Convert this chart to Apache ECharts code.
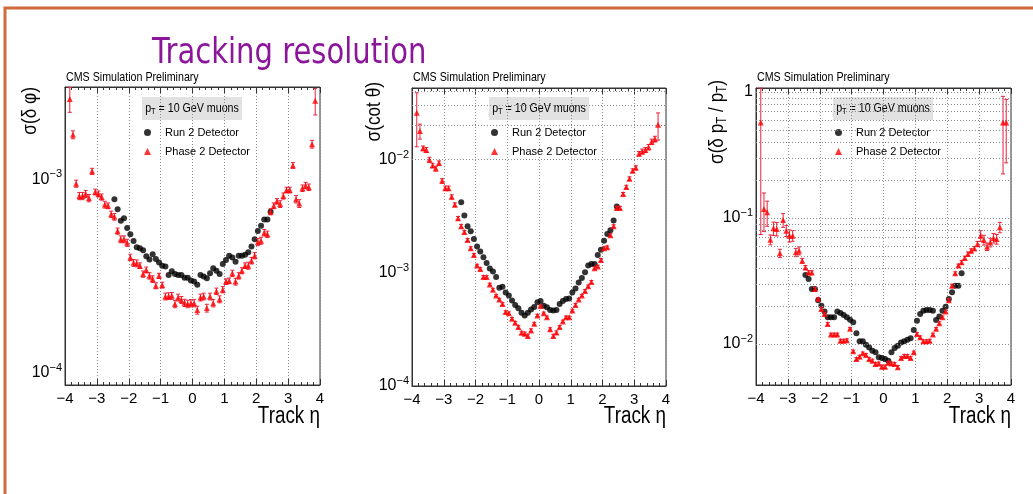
<!DOCTYPE html>
<html><head><meta charset="utf-8">
<script src="https://cdn.jsdelivr.net/npm/echarts@6/dist/echarts.min.js"></script>
<style>html,body{margin:0;padding:0;background:#fff}#c{width:1033px;height:494px}</style>
</head><body><div id="c"></div>
<script>
// ---- bin centres (Track eta) ----
const eta = [-3.85,-3.75,-3.65,-3.55,-3.45,-3.35,-3.25,-3.15,-3.05,-2.95,
 -2.85,-2.75,-2.65,-2.55,-2.45,-2.35,-2.25,-2.15,-2.05,-1.95,
 -1.85,-1.75,-1.65,-1.55,-1.45,-1.35,-1.25,-1.15,-1.05,-0.95,
 -0.85,-0.75,-0.65,-0.55,-0.45,-0.35,-0.25,-0.15,-0.05,0.05,
 0.15,0.25,0.35,0.45,0.55,0.65,0.75,0.85,0.95,1.05,
 1.15,1.25,1.35,1.45,1.55,1.65,1.75,1.85,1.95,2.05,
 2.15,2.25,2.35,2.45,2.55,2.65,2.75,2.85,2.95,3.05,
 3.15,3.25,3.35,3.45,3.55,3.65,3.75,3.85];
const etaRun2 = [-2.45,-2.35,-2.25,-2.15,-2.05,-1.95,-1.85,-1.75,-1.65,-1.55,
 -1.45,-1.35,-1.25,-1.15,-1.05,-0.95,-0.85,-0.75,-0.65,-0.55,
 -0.45,-0.35,-0.25,-0.15,-0.05,0.05,0.15,0.25,0.35,0.45,
 0.55,0.65,0.75,0.85,0.95,1.05,1.15,1.25,1.35,1.45,
 1.55,1.65,1.75,1.85,1.95,2.05,2.15,2.25,2.35,2.45];

// ---- sigma(delta phi) ----
const dphiRun2 = [7.9e-4,7.0e-4,6.1e-4,6.3e-4,5.6e-4,5.2e-4,4.8e-4,4.45e-4,4.4e-4,4.3e-4,
 4.0e-4,3.85e-4,4.1e-4,3.87e-4,3.72e-4,3.58e-4,3.54e-4,3.2e-4,3.35e-4,3.24e-4,
 3.2e-4,3.2e-4,3.1e-4,3.1e-4,3.0e-4,2.96e-4,2.85e-4,3.2e-4,3.15e-4,3.08e-4,
 3.27e-4,3.47e-4,3.37e-4,3.24e-4,3.65e-4,3.83e-4,4.03e-4,3.95e-4,3.75e-4,4.03e-4,
 4.03e-4,4.08e-4,4.2e-4,4.5e-4,4.9e-4,5.4e-4,5.76e-4,6.2e-4,6.2e-4,6.8e-4];
const dphiPhase2 = [2.6e-3,1.7e-3,9.5e-4,8.2e-4,8.2e-4,8.4e-4,8.0e-4,1.1e-3,8.6e-4,8.4e-4,
 8.1e-4,7.4e-4,7.3e-4,6.6e-4,6.4e-4,5.4e-4,4.9e-4,4.9e-4,4.7e-4,3.95e-4,
 3.7e-4,3.68e-4,3.58e-4,3.24e-4,3.4e-4,3.17e-4,3.05e-4,2.82e-4,3.17e-4,2.84e-4,
 2.48e-4,2.49e-4,2.5e-4,2.27e-4,2.45e-4,2.38e-4,2.3e-4,2.27e-4,2.29e-4,2.29e-4,
 2.11e-4,2.45e-4,2.48e-4,2.16e-4,2.48e-4,2.29e-4,2.64e-4,2.4e-4,2.69e-4,2.96e-4,
 2.99e-4,3.27e-4,2.96e-4,3.17e-4,3.37e-4,3.58e-4,3.58e-4,3.8e-4,4.03e-4,4.74e-4,
 4.82e-4,5.3e-4,5.2e-4,6.8e-4,7.3e-4,7.7e-4,7.45e-4,8.2e-4,8.8e-4,8.8e-4,
 1.18e-3,7.9e-4,7.5e-4,9.0e-4,9.3e-4,9.1e-4,1.52e-3,2.55e-3];
const dphiPhase2Err = [3.8e-4,8e-5,4e-5,3.5e-5,3.5e-5,3.5e-5,3.5e-5,4e-5,3e-5,3e-5,
 3e-5,3e-5,2.5e-5,2.5e-5,2.5e-5,2e-5,2e-5,2e-5,2e-5,1.5e-5,
 1.5e-5,1.5e-5,1.2e-5,1.2e-5,1.2e-5,1.2e-5,1.2e-5,1e-5,1e-5,1e-5,
 1e-5,1e-5,1e-5,1e-5,1e-5,1e-5,1e-5,1e-5,1e-5,1e-5,
 1e-5,1e-5,1e-5,1e-5,1e-5,1e-5,1e-5,1e-5,1e-5,1e-5,
 1e-5,1.2e-5,1.2e-5,1.2e-5,1.2e-5,1.2e-5,1.5e-5,1.5e-5,1.5e-5,2e-5,
 2e-5,2e-5,2e-5,2.5e-5,2.5e-5,2.5e-5,3e-5,3e-5,3e-5,3e-5,
 4e-5,3.5e-5,3.5e-5,3.5e-5,3.5e-5,3.5e-5,7e-5,4e-4];

// ---- sigma(cot theta) ----
const cotRun2 = [4.2e-3,3.21e-3,2.58e-3,2.33e-3,1.99e-3,1.71e-3,1.54e-3,1.37e-3,1.22e-3,1.09e-3,
 1.03e-3,9.2e-4,7.4e-4,7.55e-4,6.7e-4,6.3e-4,5.7e-4,5.2e-4,4.87e-4,4.43e-4,
 4.2e-4,4.43e-4,4.74e-4,5.0e-4,5.5e-4,5.65e-4,5.13e-4,4.96e-4,4.7e-4,4.65e-4,
 4.7e-4,5.3e-4,5.65e-4,5.86e-4,5.94e-4,6.7e-4,7.26e-4,8.2e-4,9.0e-4,1.01e-3,
 1.16e-3,1.2e-3,1.2e-3,1.44e-3,1.6e-3,1.92e-3,2.2e-3,2.38e-3,2.9e-3,3.85e-3];
const cotPhase2 = [2.6e-2,1.79e-2,1.26e-2,1.22e-2,1.0e-2,8.9e-3,8.35e-3,9.35e-3,6.5e-3,5.6e-3,
 5.6e-3,4.7e-3,4.0e-3,3.03e-3,2.58e-3,2.29e-3,1.95e-3,1.65e-3,1.44e-3,1.16e-3,
 1.08e-3,9.2e-4,9.2e-4,7.9e-4,7.1e-4,6.3e-4,5.8e-4,5.3e-4,4.5e-4,4.4e-4,
 3.93e-4,3.62e-4,3.32e-4,2.95e-4,2.9e-4,2.77e-4,3.1e-4,3.55e-4,4.2e-4,5.1e-4,
 4.4e-4,4.05e-4,3.17e-4,2.76e-4,2.97e-4,3.32e-4,3.72e-4,4.05e-4,4.05e-4,4.65e-4,
 5.2e-4,5.8e-4,6.3e-4,6.9e-4,7.6e-4,8.3e-4,1.1e-3,1.14e-3,1.3e-3,1.65e-3,
 1.68e-3,2.15e-3,2.58e-3,3.75e-3,3.75e-3,4.97e-3,5.74e-3,6.8e-3,8.0e-3,8.5e-3,
 1.13e-2,1.18e-2,1.22e-2,1.29e-2,1.44e-2,1.52e-2,2.04e-2,null];
const cotPhase2Err = [1.3e-2,2.7e-3,6e-4,6e-4,5e-4,4e-4,4e-4,4e-4,3e-4,2.5e-4,
 2.5e-4,2e-4,1.5e-4,1.2e-4,1e-4,8e-5,6e-5,5e-5,4e-5,3e-5,
 3e-5,2.5e-5,2.5e-5,2e-5,2e-5,1.5e-5,1.5e-5,1.5e-5,1.2e-5,1.2e-5,
 1e-5,1e-5,1e-5,1e-5,1e-5,1e-5,1e-5,1e-5,1e-5,1e-5,
 1e-5,1e-5,1e-5,1e-5,1e-5,1e-5,1e-5,1e-5,1e-5,1.2e-5,
 1.5e-5,1.5e-5,1.5e-5,2e-5,2e-5,2.5e-5,3e-5,3e-5,4e-5,5e-5,
 5e-5,7e-5,8e-5,1.2e-4,1.2e-4,1.6e-4,2e-4,2.5e-4,3e-4,3.5e-4,
 5e-4,6e-4,6e-4,7e-4,8e-4,9e-4,5.5e-3,0];

// ---- sigma(delta pT / pT) ----
const ptRun2 = [0.0353,0.0328,0.0273,0.0273,0.0223,0.0201,0.0181,0.0163,0.0163,0.0163,
 0.0181,0.0176,0.0170,0.0163,0.0156,0.0149,0.0122,0.0105,0.0105,0.00988,
 0.0094,0.00886,0.0086,0.00785,0.00774,0.0076,0.00738,0.0086,0.00929,0.0097,
 0.0103,0.0105,0.0108,0.0111,0.0129,0.0153,0.0173,0.0184,0.0186,0.0186,
 0.0184,0.0155,0.0165,0.0184,0.0198,0.0228,0.0257,0.029,0.029,0.0364];
const ptPhase2 = [0.574,0.118,0.111,0.0673,0.0828,0.082,0.0525,0.0964,0.0794,0.0724,
 0.0724,0.0534,0.055,0.0458,0.0405,0.037,0.037,0.0273,0.0228,0.019,
 0.0173,0.0144,0.0119,0.0119,0.0119,0.0106,0.0106,0.0107,0.0132,0.00875,
 0.0076,0.00794,0.00844,0.0082,0.0076,0.00738,0.00693,0.007,0.0066,0.0066,
 0.0071,0.007,0.00693,0.00655,0.00774,0.00805,0.00805,0.00774,0.00859,0.012,
 0.0113,0.0105,0.0105,0.0106,0.0119,0.0132,0.0146,0.0163,0.0181,0.0223,
 0.029,0.0364,0.0419,0.0445,0.0482,0.0518,0.055,0.0574,0.0622,0.0724,
 0.067,0.0592,0.064,0.0694,0.068,0.0844,0.574,0.574];
const ptPhase2Err = [0.5,0.04,0.025,0.006,0.01,0.01,0.004,0.012,0.008,0.008,
 0.007,0.004,0.004,0.002,0.0015,0.0012,0.0012,0.0008,0.0006,0.0005,
 0.0004,0.0004,0.0003,0.0003,0.0003,0.0003,0.0003,0.0003,0.0003,0.0002,
 0.0002,0.0002,0.0002,0.0002,0.0002,0.0002,0.0002,0.0002,0.0002,0.0002,
 0.0002,0.0002,0.0002,0.0002,0.0002,0.0002,0.0002,0.0002,0.0002,0.0003,
 0.0003,0.0003,0.0003,0.0003,0.0003,0.0003,0.0004,0.0004,0.0005,0.0006,
 0.0008,0.001,0.0012,0.0015,0.0015,0.002,0.002,0.002,0.003,0.007,
 0.006,0.004,0.005,0.006,0.006,0.008,0.35,0.3];

// ---- log grid line values ----
const gridPhi = [9e-5,1e-4,2e-4,3e-4,4e-4,5e-4,6e-4,7e-4,8e-4,9e-4,1e-3,2e-3];
const gridCot = [2e-4,3e-4,4e-4,5e-4,6e-4,7e-4,8e-4,9e-4,1e-3,2e-3,3e-3,4e-3,5e-3,6e-3,7e-3,8e-3,9e-3,1e-2,2e-2,3e-2,4e-2];
const gridPt = [5e-3,6e-3,7e-3,8e-3,9e-3,1e-2,2e-2,3e-2,4e-2,5e-2,6e-2,7e-2,8e-2,9e-2,0.1,0.2,0.3,0.4,0.5,0.6,0.7,0.8,0.9,1];

const seriesNames = ['Run 2 Detector', 'Phase 2 Detector'];
const xTicks = [-4, 4, 1];

const FONT = "'Liberation Sans',Arial,sans-serif";
const SQ = 0.82; // horizontal squeeze of the original slide text
const panels = [
  {left:65, top:87, width:255, height:298, min:8.65e-5, max:3.0e-3, run2:dphiRun2, p2:dphiPhase2, err:dphiPhase2Err, grid:gridPhi,
   ytitle:'σ(δ φ)', ytx:30, yty:87},
  {left:412, top:88, width:254, height:298, min:1e-4, max:4.3e-2, run2:cotRun2, p2:cotPhase2, err:cotPhase2Err, grid:gridCot,
   ytitle:'σ(cot θ)', ytx:374, yty:82},
  {left:756, top:88, width:255, height:297, min:4.73e-3, max:1.076, run2:ptRun2, p2:ptPhase2, err:ptPhase2Err, grid:gridPt,
   ytitle:'σ(δ p{s|T} / p{s|T})', ytx:717, yty:80}
];

function yLabel(v){
  const l = Math.log10(v), r = Math.round(l);
  if (Math.abs(l - r) > 1e-6) return '';
  if (r === 0) return '{b|1}';
  return '{b|10}{s|' + (r < 0 ? '\u2212' : '') + Math.abs(r) + '}';
}

const grids = [], xAxes = [], yAxes = [], series = [], legends = [], graphics = [];
panels.forEach((p, i) => {
  grids.push({left:p.left, top:p.top, width:p.width, height:p.height, show:true, borderColor:'#333', borderWidth:1, backgroundColor:'transparent'});
  const xBase = {type:'value', gridIndex:i, min:xTicks[0], max:xTicks[1], interval:xTicks[2],
    axisLine:{show:true, onZero:false, lineStyle:{color:'#333'}},
    axisTick:{show:true, inside:true, length:6, lineStyle:{color:'#333'}},
    minorTick:{show:true, splitNumber:5, length:3, lineStyle:{color:'#333'}}};
  xAxes.push(Object.assign({}, xBase, {position:'bottom',
    splitLine:{show:true, lineStyle:{type:[1,2], color:'#8a8a8a'}},
    axisLabel:{show:true, margin:6, color:'#000', fontSize:15, fontFamily:FONT,
      formatter: v => String(v).replace('-', '\u2212')}}));
  xAxes.push(Object.assign({}, xBase, {position:'top', splitLine:{show:false}, axisLabel:{show:false}}));
  yAxes.push({type:'log', logBase:10, gridIndex:i, min:p.min, max:p.max,
    axisLine:{show:true, onZero:false, lineStyle:{color:'#333'}}, axisTick:{show:false}, splitLine:{show:false},
    axisLabel:{show:true, margin:3, color:'#000', formatter:yLabel, showMinLabel:true, showMaxLabel:true,
      rich:{b:{fontSize:16, fontFamily:FONT, color:'#000'}, s:{fontSize:11, fontFamily:FONT, color:'#000', padding:[0,0,10,0]}}}});
  // dotted log grid lines
  series.push({type:'scatter', xAxisIndex:2*i, yAxisIndex:i, data:[], silent:true, z:1,
    markLine:{silent:true, symbol:'none', animation:false, label:{show:false},
      lineStyle:{type:[1,2], color:'#8a8a8a', width:1}, emphasis:{disabled:true},
      data:p.grid.map(v => ({yAxis:v}))}});
  series.push({name:seriesNames[0], type:'scatter', xAxisIndex:2*i, yAxisIndex:i, z:3,
    symbol:'circle', symbolSize:6, itemStyle:{color:'#000'},
    data: etaRun2.map((x, k) => [x, p.run2[k]])});
  // error bars of Phase 2
  const errData = [];
  eta.forEach((x, k) => { if (p.p2[k] != null && p.err[k] > 0) errData.push([x, p.p2[k], p.err[k]]); });
  series.push({type:'custom', xAxisIndex:2*i, yAxisIndex:i, z:4, silent:true, data:errData,
    renderItem(params, api){
      const x = api.value(0), v = api.value(1), e = api.value(2);
      const hiV = v + e, loV = v - e;
      const hi = Math.min(hiV, p.max), lo = Math.max(loV, p.min);
      const a = api.coord([x, hi]), b = api.coord([x, lo]);
      const st = {stroke:'#e8203a', lineWidth:1};
      const ch = [{type:'line', shape:{x1:a[0], y1:a[1], x2:b[0], y2:b[1]}, style:st}];
      if (hiV <= p.max) ch.push({type:'line', shape:{x1:a[0]-2, y1:a[1], x2:a[0]+2, y2:a[1]}, style:st});
      if (loV >= p.min) ch.push({type:'line', shape:{x1:b[0]-2, y1:b[1], x2:b[0]+2, y2:b[1]}, style:st});
      return {type:'group', children:ch};
    }});
  series.push({name:seriesNames[1], type:'scatter', xAxisIndex:2*i, yAxisIndex:i, z:5,
    symbol:'triangle', symbolSize:6, itemStyle:{color:'#ff0000'},
    data: eta.map((x, k) => [x, p.p2[k]]).filter(d => d[1] != null)});

  legends.push({left:p.left+79, top:127, padding:0, orient:'vertical', itemGap:8, itemWidth:7, itemHeight:7, selectedMode:false,
    textStyle:{fontFamily:FONT, fontSize:11, color:'#000', padding:[0,0,0,9]},
    data:[{name:seriesNames[0], icon:'circle'}, {name:seriesNames[1], icon:'triangle'}]});

  // header text
  graphics.push({type:'text', x:p.left+1, y:77, scaleX:SQ, style:{text:'CMS Simulation Preliminary', font:'13px ' + FONT, fill:'#000', verticalAlign:'middle'}});
  // pT box
  graphics.push({type:'rect', shape:{x:p.left+77, y:97, width:100, height:23}, style:{fill:'#e2e2e2'}});
  graphics.push({type:'text', x:p.left+127, y:108, scaleX:SQ, style:{text:'{n|p}{s|T}{n| = 10 GeV muons}', align:'center', verticalAlign:'middle',
    rich:{n:{fontSize:13, fontFamily:FONT, fill:'#000'}, s:{fontSize:9, fontFamily:FONT, fill:'#000', padding:[8,0,0,0]}}}});
  // axis titles
  graphics.push({type:'text', x:p.left+p.width, y:405, scaleX:SQ, style:{text:'Track η', font:'23px ' + FONT, fill:'#000', align:'right', verticalAlign:'top'}});
  graphics.push({type:'text', x:p.ytx, y:p.yty, rotation:Math.PI/2, scaleX:SQ,
    style:{text:p.ytitle, align:'right', verticalAlign:'middle',
      rich:{s:{fontSize:14, fontFamily:FONT, fill:'#000', padding:[10,0,0,0]}}, font:'21px ' + FONT, fill:'#000'}});
});

// frame and title
graphics.push({type:'rect', shape:{x:5, y:8, width:1200, height:700}, style:{fill:'none', stroke:'#cf6a3c', lineWidth:3}});
graphics.push({type:'text', x:152, y:54, scaleX:0.83, style:{text:'Tracking resolution', font:'35px "DejaVu Sans",sans-serif', fill:'#8c169b', verticalAlign:'middle'}});

const chart = echarts.init(document.getElementById('c'));
chart.setOption({
  animation:false, backgroundColor:'#fff',
  grid:grids, xAxis:xAxes, yAxis:yAxes, series:series, legend:legends, graphic:graphics
});
</script></body></html>
